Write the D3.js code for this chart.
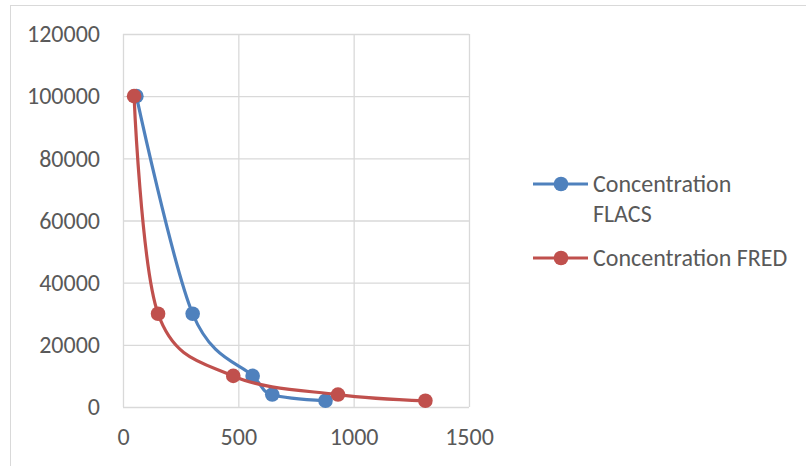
<!DOCTYPE html>
<html>
<head>
<meta charset="utf-8">
<script src="https://cdn.jsdelivr.net/npm/d3@7"></script>
<style>
  body { margin: 0; background: #fff; }
  text { font-family: Calibri, Carlito, "Liberation Sans", sans-serif; fill: #595959; }
</style>
</head>
<body>
<div id="chart"></div>
<script>
// data
const flacsX = [58, 302, 562, 647, 878];
const flacsY = [100000, 30000, 10000, 4000, 2000];
const fredX = [48, 152, 478, 932, 1311];
const fredY = [100000, 30000, 10000, 4000, 2000];
const seriesNames = ["Concentration FLACS", "Concentration FRED"];
const xTicks = [0, 500, 1000, 1500];
const yTicks = [0, 20000, 40000, 60000, 80000, 100000, 120000];

const width = 806, height = 466;
let margin = { top: 34, right: 337, bottom: 59, left: 123 };
let fontSize = 24;

const series = [
    { name: seriesNames[0], color: "#4f81bd", pts: flacsX.map((x, i) => ({ x: x, y: flacsY[i] })) },
    { name: seriesNames[1], color: "#c0504d", pts: fredX.map((x, i) => ({ x: x, y: fredY[i] })) }
];

let svg = d3.select("#chart").append("svg")
    .attr("width", width).attr("height", height);

// outer chart frame
svg.append("rect")
    .attr("x", 10.5).attr("y", 5.5)
    .attr("width", 820).attr("height", 480)
    .attr("fill", "none").attr("stroke", "#d9d9d9");

let x = d3.scaleLinear().domain([0, 1500]).range([0, width - margin.left - margin.right]);
let y = d3.scaleLinear().domain([0, 120000]).range([height - margin.top - margin.bottom, 0]);
let w = x.range()[1], h = y.range()[0];

let g = svg.append("g")
    .attr("transform", "translate(" + margin.left + "," + margin.top + ")");

// gridlines
let xAxis = g.append("g")
    .attr("transform", "translate(0," + h + ")")
    .call(d3.axisBottom(x).tickValues(xTicks).tickSize(-h).tickPadding(21).tickFormat(d3.format("d")));
let yAxis = g.append("g")
    .call(d3.axisLeft(y).tickValues(yTicks).tickSize(-w).tickPadding(23).tickFormat(d3.format("d")));

[xAxis, yAxis].forEach(a => {
    a.select(".domain").remove();
    a.selectAll(".tick line").attr("stroke", "#d9d9d9").attr("stroke-width", 1.3);
    a.selectAll(".tick text").attr("font-size", fontSize).style("fill", "#595959");
});

// smoothed lines (Excel style)
let line = d3.line()
    .x(d => x(d.x)).y(d => y(d.y))
    .curve(d3.curveCatmullRom.alpha(0));

let sg = g.selectAll(".series")
    .data(series).enter().append("g")
    .attr("class", "series");

sg.append("path")
    .attr("d", d => line(d.pts))
    .attr("fill", "none")
    .attr("stroke", d => d.color)
    .attr("stroke-width", 3.2)
    .attr("stroke-linejoin", "round");

sg.selectAll("circle")
    .data(d => d.pts.map(p => ({ p: p, color: d.color })))
    .enter().append("circle")
    .attr("cx", d => x(d.p.x))
    .attr("cy", d => y(d.p.y))
    .attr("r", 7.3)
    .attr("fill", d => d.color);

// legend
let legend = svg.append("g").attr("transform", "translate(533,0)");
let legendY = [184, 258];

let items = legend.selectAll(".legend-item")
    .data(series).enter().append("g")
    .attr("class", "legend-item")
    .attr("transform", (d, i) => "translate(0," + legendY[i] + ")");

items.append("line")
    .attr("x1", 0).attr("x2", 55)
    .attr("stroke", d => d.color).attr("stroke-width", 3.2);
items.append("circle")
    .attr("cx", 28).attr("r", 7.3)
    .attr("fill", d => d.color);

// first label wraps onto two lines
items.append("text")
    .attr("x", 60)
    .attr("font-size", fontSize)
    .each(function(d, i) {
        let t = d3.select(this);
        let lines = i === 0 ? ["Concentration", "FLACS"] : [d.name];
        lines.forEach((s, k) => {
            t.append("tspan").attr("x", 60).attr("y", 8 + k * 30).text(s);
        });
    });
</script>
</body>
</html>
